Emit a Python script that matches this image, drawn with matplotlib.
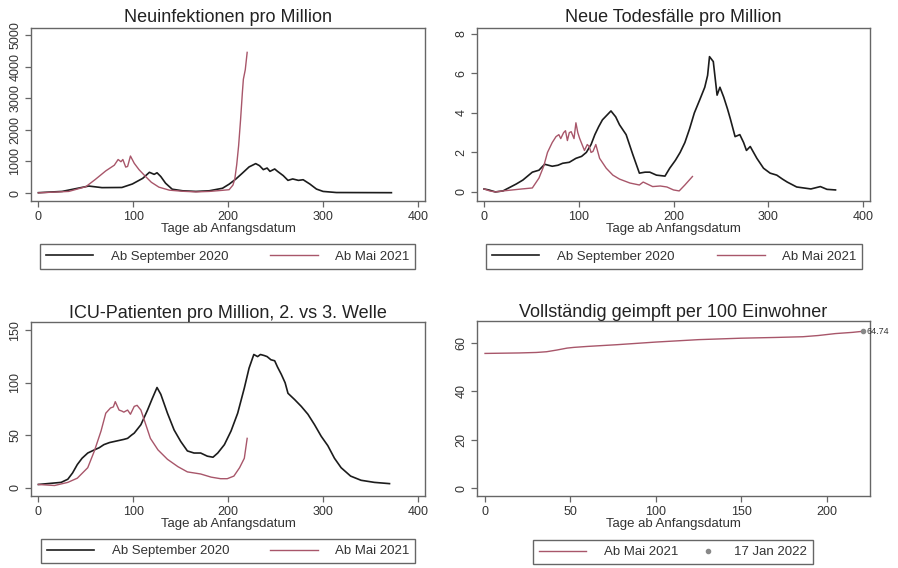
import numpy as np
import matplotlib
matplotlib.use("Agg")
import matplotlib.pyplot as plt
from matplotlib.lines import Line2D
from matplotlib.legend_handler import HandlerLine2D

plt.rcParams['font.family'] = ['Liberation Sans', 'DejaVu Sans']

# --- Neuinfektionen pro Million ---
inf_sep_days = [0, 25, 53, 67, 88, 99, 110, 117, 122, 125, 129, 134, 141, 152, 166, 180,
                194, 201, 208, 215, 222, 229, 233, 237, 241, 244, 249, 252, 258, 263,
                268, 274, 279, 286, 293, 300, 314, 372]
inf_sep_vals = [10, 50, 220, 170, 175, 285, 465, 655, 590, 640, 520, 310, 120, 70, 50, 70,
                150, 280, 440, 630, 825, 930, 865, 740, 790, 685, 760, 685, 550, 400,
                445, 400, 420, 285, 125, 50, 15, 10]
inf_mai_days = [0, 32, 50, 60, 71, 80, 84, 87, 89, 92, 94, 97, 101, 106, 112, 119, 127, 138,
                152, 166, 180, 194, 201, 205, 207, 209, 211, 213, 215, 216, 218, 220]
inf_mai_vals = [5, 50, 200, 430, 700, 880, 1060, 990, 1060, 820, 840, 1170, 940, 740, 550,
                340, 185, 90, 55, 35, 50, 85, 105, 250, 450, 900, 1500, 2300, 3200, 3600,
                3900, 4450]

# --- Neue Todesfälle pro Million ---
tod_sep_days = [0, 5, 12, 20, 26, 34, 41, 46, 51, 58, 64, 72, 78, 83, 90, 97, 103, 108, 113,
                117, 121, 125, 130, 134, 139, 143, 150, 157, 164, 170, 175, 182, 191, 196,
                202, 207, 212, 217, 222, 228, 233, 236, 238, 242, 246, 249, 253, 257, 260,
                265, 270, 274, 277, 281, 288, 295, 302, 309, 315, 320, 330, 345, 355, 362, 371]
tod_sep_vals = [0.15, 0.1, 0.0, 0.05, 0.2, 0.4, 0.6, 0.8, 1.0, 1.1, 1.4, 1.3, 1.35, 1.45, 1.5,
                1.7, 1.8, 2.0, 2.4, 2.9, 3.3, 3.65, 3.9, 4.1, 3.8, 3.4, 2.9, 1.9, 0.95, 1.0,
                1.0, 0.85, 0.8, 1.2, 1.6, 2.0, 2.5, 3.2, 4.0, 4.7, 5.3, 5.9, 6.85, 6.6, 4.9,
                5.3, 4.8, 4.2, 3.7, 2.8, 2.9, 2.5, 2.1, 2.3, 1.7, 1.2, 0.95, 0.85, 0.65, 0.5,
                0.25, 0.15, 0.27, 0.13, 0.1]
tod_mai_days = [0, 6, 12, 20, 30, 40, 51, 58, 63, 67, 72, 76, 79, 81, 84, 86, 88, 90, 92, 95,
                97, 99, 101, 106, 109, 111, 113, 115, 118, 122, 129, 136, 143, 154, 164, 168,
                178, 186, 193, 200, 206, 212, 220]
tod_mai_vals = [0.15, 0.05, 0.0, 0.05, 0.1, 0.15, 0.2, 0.7, 1.3, 2.0, 2.5, 2.8, 2.9, 2.7, 3.0,
                3.1, 2.6, 3.0, 3.05, 2.7, 3.5, 3.0, 2.7, 2.1, 2.4, 2.3, 2.0, 2.05, 2.4, 1.7,
                1.2, 0.85, 0.65, 0.45, 0.35, 0.5, 0.27, 0.3, 0.25, 0.1, 0.05, 0.35, 0.78]

# --- ICU-Patienten pro Million ---
icu_sep_days = [0, 12, 24, 31, 36, 41, 46, 52, 59, 64, 69, 75, 80, 85, 90, 94, 98, 101, 108,
                115, 120, 125, 129, 136, 143, 150, 157, 164, 171, 178, 184, 189, 196, 203,
                210, 217, 222, 227, 231, 234, 238, 241, 245, 249, 252, 256, 260, 263, 270,
                277, 284, 291, 298, 305, 312, 319, 329, 340, 354, 370]
icu_sep_vals = [3, 4, 5, 8, 14, 22, 28, 33, 36, 38, 41, 43, 44, 45, 46, 47, 50, 52, 60, 74,
                85, 95.5, 89, 71, 55, 44, 35, 33, 33, 30, 29, 33, 41, 54, 71, 95, 114, 127,
                125, 127, 126, 125, 122, 121, 115, 108, 100, 90, 84, 77.5, 70, 60, 49, 40,
                28, 19, 11, 7, 5, 3.8]
icu_mai_days = [0, 17, 31, 41, 52, 59, 66, 71, 76, 79, 81, 85, 88, 90, 94, 97, 101, 104, 108,
                111, 118, 126, 136, 147, 157, 171, 182, 192, 199, 206, 212, 217, 220]
icu_mai_vals = [3, 2, 5, 9, 19, 35, 54, 71, 76, 77, 82, 74, 73, 72, 74, 70, 77.5, 78.5, 74,
                66, 47, 36, 27, 20, 15, 13, 10, 8.5, 8.5, 11, 19, 28, 47]

# --- Vollständig geimpft per 100 Einwohner ---
vax_days = [0, 10, 20, 30, 36, 42, 48, 52, 60, 77, 100, 125, 150, 170, 186, 195, 205, 215, 221]
vax_vals = [55.6, 55.7, 55.8, 56.0, 56.3, 57.0, 57.8, 58.1, 58.5, 59.2, 60.3, 61.3, 61.9,
            62.2, 62.5, 63.0, 63.8, 64.3, 64.74]
vax_last_label = "64.74"
vax_last_date = "17 Jan 2022"

BLACK = '#1c1c1c'
RED = '#a8566a'
GREY = '#666666'
W, H = 898, 568


class HandlerShifted(HandlerLine2D):
    # push the marker towards the label, like Stata does
    def create_artists(self, legend, orig_handle, xdescent, ydescent, width, height,
                       fontsize, trans):
        artists = super().create_artists(legend, orig_handle, xdescent, ydescent,
                                         width, height, fontsize, trans)
        for a in artists:
            a.set_xdata(np.asarray(a.get_xdata()) + 0.3 * width)
        return artists


def style_axes(ax, xlim, ylim, xticks, yticks, title, title_pad):
    ax.set_xlim(*xlim)
    ax.set_ylim(*ylim)
    ax.set_xticks(xticks)
    ax.set_yticks(yticks)
    for s in ax.spines.values():
        s.set_color(GREY)
        s.set_linewidth(1.0)
    ax.tick_params(direction='out', length=4, width=0.9, color=GREY,
                   labelsize=9, labelcolor='#333333', pad=3)
    ax.tick_params(axis='y', labelrotation=90)
    plt.setp(ax.get_yticklabels(), va='center')
    ax.set_xlabel("Tage ab Anfangsdatum", fontsize=9.5, color='#333333', labelpad=0)
    ax.set_title(title, fontsize=13, color='#222222', pad=title_pad)


def add_legend(fig, handles, labels, x0, x1, y0, y1, handler_map=None):
    fig.legend(handles, labels, loc='center', ncol=2, mode='expand',
               bbox_to_anchor=(x0 / W, 1 - y1 / H, (x1 - x0) / W, (y1 - y0) / H),
               bbox_transform=fig.transFigure, borderaxespad=0, fontsize=9.5,
               handlelength=3.6, handletextpad=1.3, borderpad=0.45,
               frameon=True, fancybox=False, edgecolor=GREY, framealpha=1,
               labelcolor='#333333', handler_map=handler_map)


fig = plt.figure(figsize=(W / 100, H / 100), dpi=100)
fig.patch.set_facecolor('white')

ax1 = fig.add_axes([31 / W, 1 - 201 / H, 394 / W, 173 / H])
ax2 = fig.add_axes([477 / W, 1 - 201 / H, 393 / W, 173 / H])
ax3 = fig.add_axes([31 / W, 1 - 496 / H, 394 / W, 174 / H])
ax4 = fig.add_axes([477 / W, 1 - 496 / H, 393 / W, 175 / H])

ax1.plot(inf_sep_days, inf_sep_vals, color=BLACK, lw=1.2)
ax1.plot(inf_mai_days, inf_mai_vals, color=RED, lw=1.0)
style_axes(ax1, (-7.8, 407.4), (-253, 5221), [0, 100, 200, 300, 400],
           [0, 1000, 2000, 3000, 4000, 5000], "Neuinfektionen pro Million", 4)

ax2.plot(tod_sep_days, tod_sep_vals, color=BLACK, lw=1.2)
ax2.plot(tod_mai_days, tod_mai_vals, color=RED, lw=1.0)
style_axes(ax2, (-7.4, 407.4), (-0.46, 8.3), [0, 100, 200, 300, 400],
           [0, 2, 4, 6, 8], "Neue Todesfälle pro Million", 4)

ax3.plot(icu_sep_days, icu_sep_vals, color=BLACK, lw=1.2)
ax3.plot(icu_mai_days, icu_mai_vals, color=RED, lw=1.0)
style_axes(ax3, (-7.8, 407.4), (-8, 158), [0, 100, 200, 300, 400],
           [0, 50, 100, 150], "ICU-Patienten pro Million, 2. vs 3. Welle", 3)

ax4.plot(vax_days, vax_vals, color=RED, lw=1.0)
ax4.plot(vax_days[-1], vax_vals[-1], 'o', color='#888888', ms=3)
ax4.annotate(vax_last_label, (vax_days[-1], vax_vals[-1]), xytext=(3, 0),
             textcoords='offset points', fontsize=6.5, color='#333333',
             va='center', annotation_clip=False)
style_axes(ax4, (-4.7, 225.3), (-3.3, 69), [0, 50, 100, 150, 200],
           [0, 20, 40, 60], "Vollständig geimpft per 100 Einwohner", 3)

h_sep = Line2D([], [], color=BLACK, lw=1.2)
h_mai = Line2D([], [], color=RED, lw=1.0)
h_pt = Line2D([], [], color='#888888', marker='o', ms=3, lw=0)
leg_labels = ["Ab September 2020", "Ab Mai 2021"]

add_legend(fig, [h_sep, h_mai], leg_labels, 40, 415, 245, 268)
add_legend(fig, [h_sep, h_mai], leg_labels, 486, 862, 245, 268)
add_legend(fig, [h_sep, h_mai], leg_labels, 41, 415, 539, 563)
add_legend(fig, [h_mai, h_pt], ["Ab Mai 2021", vax_last_date], 533, 813, 539, 565,
           handler_map={h_pt: HandlerShifted(numpoints=1)})

fig.savefig("out.png", dpi=100, facecolor='white')
